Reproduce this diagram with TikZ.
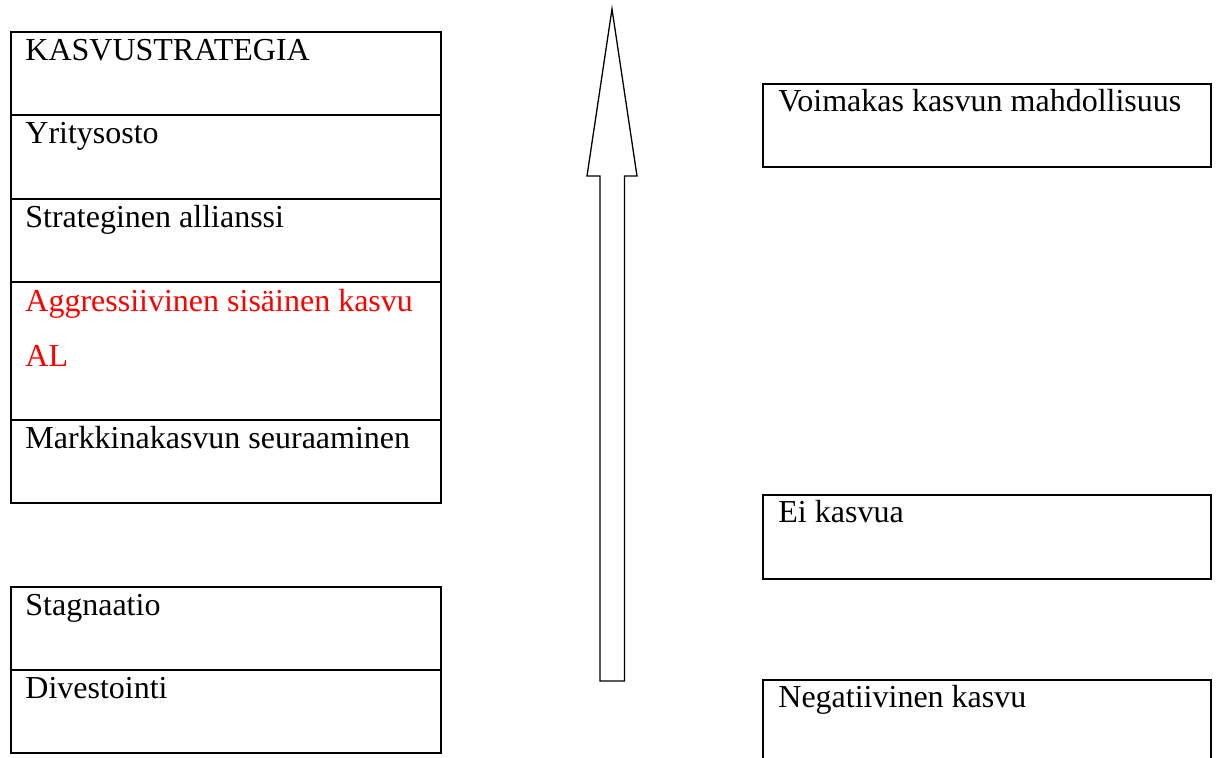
\documentclass[tikz,border=0pt]{standalone}
\usepackage{fontspec}
\setmainfont{Liberation Serif}
\usetikzlibrary{positioning}

\tikzset{
  cell/.style={draw,line width=0.9pt,anchor=north west,inner sep=0pt},
  celltext/.style={anchor=base west,inner sep=0pt,font=\fontsize{16pt}{27.5pt}\selectfont}
}

\begin{document}
\begin{tikzpicture}[x=0.5pt,y=-0.5pt]
  \useasboundingbox (0,0) rectangle (1217,758);
  \clip (0,0) rectangle (1217,758);

  % Left stack of strategies.
  \foreach \n/\top/\h/\txt in {kasvu/31/83/KASVUSTRATEGIA,
      yritysosto/114/84/Yritysosto,
      allianssi/198/83/Strateginen allianssi,
      markkina/419/83/Markkinakasvun seuraaminen,
      stagnaatio/586/83/Stagnaatio,
      divestointi/669/83/Divestointi}
    {\node[cell,minimum width=215pt,minimum height=\h*0.5pt] (\n) at (10,\top) {};
     \node[celltext] (\n-t) at ([shift={(7.5pt,-15pt)}]\n.north west) {\txt};}

  % Highlighted strategy.
  \node[cell,minimum width=215pt,minimum height=138*0.5pt] (aggressiivinen) at (10,281) {};
  \node[celltext,text=red] (aggressiivinen-t)
    at ([shift={(7.5pt,-15.3pt)}]aggressiivinen.north west) {Aggressiivinen sisäinen kasvu};
  \node[celltext,text=red] (al) at ([yshift=-27.5pt]aggressiivinen-t.base west) {AL};

  % Growth arrow.
  \draw[line width=0.65pt] (612,9) -- (637,176) -- (624.5,176) -- (624.5,681)
    -- (600,681) -- (600,176) -- (587,176) -- cycle;

  % Right column of growth outlooks.
  \foreach \n/\top/\h/\txt in {voimakas/83/83/Voimakas kasvun mahdollisuus,
      eikasvua/494/84/Ei kasvua,
      negatiivinen/679/90/Negatiivinen kasvu}
    {\node[cell,minimum width=224pt,minimum height=\h*0.5pt] (\n) at (762,\top) {};
     \node[celltext] (\n-t) at ([shift={(8pt,-14.5pt)}]\n.north west) {\txt};}
\end{tikzpicture}
\end{document}
